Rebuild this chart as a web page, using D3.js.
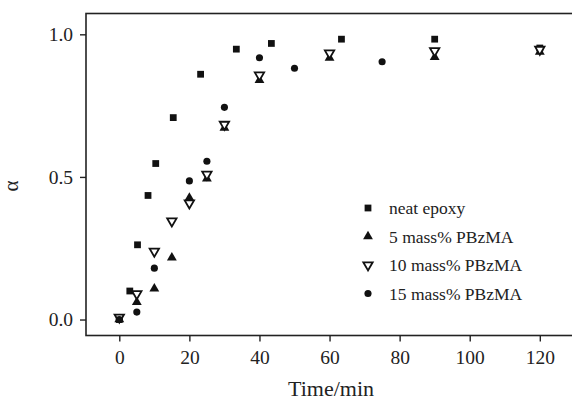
<!DOCTYPE html>
<html>
<head>
<meta charset="utf-8">
<script src="https://cdn.jsdelivr.net/npm/d3@7"></script>
<style>
  body { margin: 0; background: #fff; }
  svg { display: block; font-family: "Liberation Serif", "Times New Roman", serif; }
</style>
</head>
<body>
<div class="container"></div>
<script>
// Values (time in min, conversion alpha).
const neatTime   = [0, 3, 5.2, 8.2, 10.4, 15.4, 23.2, 33.4, 43.4, 63.4, 90, 120];
const neatAlpha  = [0.0, 0.10, 0.262, 0.435, 0.547, 0.708, 0.86, 0.948, 0.968, 0.983, 0.983, 0.952];

const pb5Time    = [0, 5, 10, 15, 20, 25, 30, 40, 60, 90, 120];
const pb5Alpha   = [0.0, 0.061, 0.108, 0.217, 0.426, 0.494, 0.672, 0.839, 0.917, 0.92, 0.938];

const pb10Time   = [0, 5, 10, 15, 20, 25, 30, 40, 60, 90, 120];
const pb10Alpha  = [0.008, 0.09, 0.239, 0.345, 0.408, 0.509, 0.684, 0.857, 0.934, 0.942, 0.947];

const pb15Time   = [0, 5, 10, 20, 25, 30, 40, 50, 75];
const pb15Alpha  = [0.0, 0.026, 0.18, 0.486, 0.555, 0.744, 0.918, 0.881, 0.904];

const seriesNames = ["neat epoxy", "5 mass% PBzMA", "10 mass% PBzMA", "15 mass% PBzMA"];
const xTicks = [0, 20, 40, 60, 80, 100, 120];
const yTicks = [0.0, 0.5, 1.0];

const width = 572;
const height = 400;

const x = d3.scaleLinear().domain([-9.5, 130.5]).range([86, 576.6]);
const y = d3.scaleLinear().domain([-0.056, 1.073]).range([335.5, 13.5]);

const svg = d3.select(".container")
    .append("svg")
    .attr("width", width)
    .attr("height", height);

// marker styles per series
const markers = [
    { type: d3.symbolSquare, size: 46, fill: "#111", stroke: "none", rot: 0 },
    { type: d3.symbolTriangle, size: 42, fill: "#111", stroke: "none", rot: 0 },
    { type: d3.symbolTriangle, size: 38, fill: "#fff", stroke: "#111", rot: 180 },
    { type: d3.symbolCircle, size: 40, fill: "#111", stroke: "none", rot: 0 }
];

const series = [
    d3.zip(neatTime, neatAlpha),
    d3.zip(pb5Time, pb5Alpha),
    d3.zip(pb10Time, pb10Alpha),
    d3.zip(pb15Time, pb15Alpha)
];

// frame (right side runs off the picture)
svg.append("rect")
    .attr("x", x.range()[0])
    .attr("y", y.range()[1])
    .attr("width", x.range()[1] - x.range()[0])
    .attr("height", y.range()[0] - y.range()[1])
    .attr("fill", "none")
    .attr("stroke", "#222")
    .attr("stroke-width", 1.6);

// axes
const xAxis = svg.append("g")
    .attr("transform", `translate(0,${y.range()[0]})`)
    .call(d3.axisBottom(x).tickValues(xTicks).tickSize(6).tickPadding(9).tickFormat(d3.format("d")));
const yAxis = svg.append("g")
    .attr("transform", `translate(${x.range()[0]},0)`)
    .call(d3.axisLeft(y).tickValues(yTicks).tickSize(6).tickPadding(7).tickFormat(d3.format(".1f")));

[xAxis, yAxis].forEach(g => {
    g.select(".domain").remove();
    g.selectAll(".tick line").attr("stroke", "#222").attr("stroke-width", 1.4);
    g.selectAll(".tick text")
        .attr("fill", "#222")
        .style("font-family", "'Liberation Serif', serif")
        .style("font-size", "19.5px");
});

// axis titles
svg.append("text")
    .attr("x", 331)
    .attr("y", 396)
    .attr("text-anchor", "middle")
    .attr("fill", "#222")
    .style("font-size", "22px")
    .text("Time/min");

svg.append("text")
    .attr("transform", "translate(18,186) rotate(-90)")
    .attr("text-anchor", "middle")
    .attr("fill", "#222")
    .style("font-size", "21px")
    .text("α");

// points
series.forEach((pts, i) => {
    const m = markers[i];
    const sym = d3.symbol().type(m.type).size(m.size);
    svg.append("g")
        .selectAll("path")
        .data(pts)
        .enter()
        .append("path")
        .attr("d", sym)
        .attr("transform", d => `translate(${x(d[0])},${y(d[1])}) rotate(${m.rot})`)
        .attr("fill", m.fill)
        .attr("stroke", m.stroke)
        .attr("stroke-width", 1.8);
});

// legend
const legend = svg.append("g").attr("transform", "translate(368,208)");
seriesNames.forEach((name, i) => {
    const m = markers[i];
    const row = legend.append("g").attr("transform", `translate(0,${i * 28.5})`);
    row.append("path")
        .attr("d", d3.symbol().type(m.type).size(m.size))
        .attr("transform", `rotate(${m.rot})`)
        .attr("fill", m.fill)
        .attr("stroke", m.stroke)
        .attr("stroke-width", 1.8);
    row.append("text")
        .attr("x", 21)
        .attr("dy", "0.35em")
        .attr("fill", "#222")
        .style("font-size", "17.5px")
        .text(name);
});
</script>
</body>
</html>
